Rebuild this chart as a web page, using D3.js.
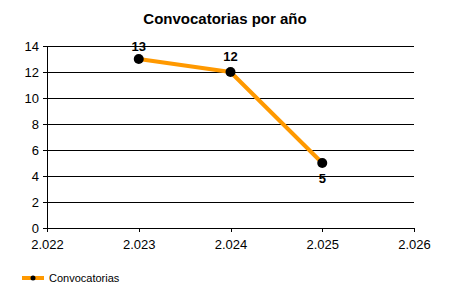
<!DOCTYPE html>
<html>
<head>
<meta charset="utf-8">
<script src="https://cdn.jsdelivr.net/npm/d3@7"></script>
<style>
  body { margin: 0; background: #fff; }
  svg text { font-family: "Liberation Sans", Arial, sans-serif; }
</style>
</head>
<body>
<div id="chart"></div>
<script>
// Data
var years = [2023, 2024, 2025];
var counts = [13, 12, 5];
var xTicks = [2022, 2023, 2024, 2025, 2026];
var yTicks = [0, 2, 4, 6, 8, 10, 12, 14];
var seriesName = 'Convocatorias';

var fullWidth = 450, fullHeight = 300;
var margin = { top: 46, right: 36, bottom: 72, left: 47 };
var width = fullWidth - margin.left - margin.right;
var height = fullHeight - margin.top - margin.bottom;

var lineColor = '#FF9900';

// Spanish number format: 2.022
var esLocale = d3.formatLocale({ decimal: ',', thousands: '.', grouping: [3], currency: ['', '€'] });
var fmtYear = esLocale.format(',d');

var svg = d3.select('#chart').append('svg')
    .attr('width', fullWidth)
    .attr('height', fullHeight);

svg.append('text')
    .attr('x', 225)
    .attr('y', 24)
    .attr('text-anchor', 'middle')
    .style('font-size', '15px')
    .style('font-weight', 'bold')
    .text('Convocatorias por año');

var g = svg.append('g')
    .attr('transform', 'translate(' + margin.left + ',' + margin.top + ')');

var xScale = d3.scaleLinear().domain([2022, 2026]).range([0, width]);
var yScale = d3.scaleLinear().domain([0, 14]).range([height, 0]);

// horizontal gridlines
g.append('g').selectAll('line').data(yTicks).enter().append('line')
    .attr('x1', 0)
    .attr('x2', width)
    .attr('y1', function (d) { return Math.round(yScale(d)) + 0.5; })
    .attr('y2', function (d) { return Math.round(yScale(d)) + 0.5; })
    .attr('stroke', '#000')
    .attr('stroke-width', 1)
    .attr('shape-rendering', 'crispEdges');

// axes
var yAxis = d3.axisLeft(yScale).tickValues(yTicks).tickSize(4).tickPadding(4);
var xAxis = d3.axisBottom(xScale).tickValues(xTicks).tickSize(4).tickPadding(8)
    .tickFormat(fmtYear);

var yAxisEle = g.append('g').call(yAxis);
var xAxisEle = g.append('g').attr('transform', 'translate(0,' + height + ')').call(xAxis);

[yAxisEle, xAxisEle].forEach(function (a) {
    a.select('.domain').attr('stroke', '#000').attr('shape-rendering', 'crispEdges');
    a.selectAll('.tick line').attr('stroke', '#000').attr('shape-rendering', 'crispEdges');
    a.selectAll('.tick text')
        .style('font-family', '"Liberation Sans", Arial, sans-serif')
        .style('font-size', '13px')
        .attr('fill', '#000');
});
xAxisEle.select('.domain').attr('d', 'M0.5,0H' + width);
yAxisEle.select('.domain').attr('d', 'M0.5,0V' + height);

// line
var line = d3.line()
    .x(function (d, i) { return xScale(years[i]); })
    .y(function (d) { return yScale(d); });

g.append('path')
    .datum(counts)
    .attr('d', line)
    .attr('fill', 'none')
    .attr('stroke', lineColor)
    .attr('stroke-width', 4)
    .attr('stroke-linejoin', 'round');

g.selectAll('circle.pt').data(counts).enter().append('circle')
    .attr('class', 'pt')
    .attr('cx', function (d, i) { return xScale(years[i]); })
    .attr('cy', function (d) { return yScale(d); })
    .attr('r', 5)
    .attr('fill', '#000');

// value labels: above, except last one below
g.selectAll('text.lbl').data(counts).enter().append('text')
    .attr('class', 'lbl')
    .attr('x', function (d, i) { return xScale(years[i]); })
    .attr('y', function (d, i) {
        if (i === counts.length - 1) return yScale(d) + 20;
        return Math.max(yScale(d) - 11, 5);
    })
    .attr('text-anchor', 'middle')
    .style('font-size', '13px')
    .style('font-weight', 'bold')
    .text(function (d) { return d; });

// legend
var legend = svg.append('g').attr('transform', 'translate(22,278)');
legend.append('line')
    .attr('x1', 0).attr('x2', 22).attr('y1', 0).attr('y2', 0)
    .attr('stroke', lineColor).attr('stroke-width', 4);
legend.append('circle').attr('cx', 11).attr('cy', 0).attr('r', 2.5).attr('fill', '#000');
legend.append('text')
    .attr('x', 27)
    .attr('y', 4)
    .style('font-size', '11px')
    .text(seriesName);
</script>
</body>
</html>
